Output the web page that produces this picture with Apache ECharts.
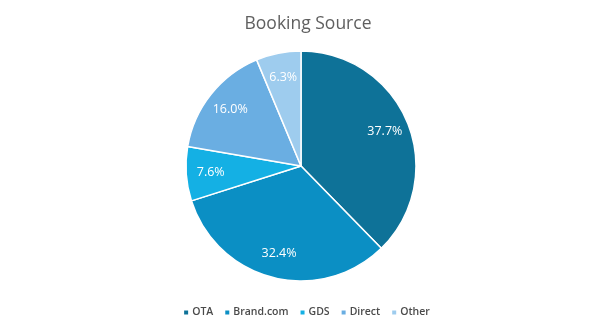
<!DOCTYPE html>
<html><head><meta charset="utf-8">
<script src="https://cdn.jsdelivr.net/npm/echarts@6/dist/echarts.min.js"></script>
<style>html,body{margin:0;padding:0;background:#fff}#c{width:612px;height:336px}</style>
</head><body><div id="c"></div>
<script>
const categories = ['OTA', 'Brand.com', 'GDS', 'Direct', 'Other'];
const shares = [37.7, 32.4, 7.6, 16.0, 6.3];
const colors = ['#0E7298', '#0B8FC4', '#14B0E4', '#6AAEE2', '#9ECCEE'];
const titleText = 'Booking Source';

const data = categories.map((n, i) => ({ name: n, value: shares[i], itemStyle: { color: colors[i] } }));
const font = '"Open Sans", "Noto Sans", sans-serif';
const chart = echarts.init(document.getElementById('c'), null, { renderer: 'canvas' });
chart.setOption({
  animation: false,
  title: { text: titleText, left: 303, textAlign: 'center', top: 10, textStyle: { fontFamily: font, fontSize: 17.5, fontWeight: 'normal', color: '#5f5f5f' } },
  legend: {
    data: categories, bottom: 13, left: 'center', itemWidth: 6, itemHeight: 6, itemGap: 10, icon: 'rect',
    textStyle: { fontFamily: font, fontSize: 10.5, fontWeight: 600, color: '#4a4a4a', padding: [0, 0, 0, -2] }
  },
  series: [
    {
      type: 'pie', center: [301, 166], radius: [0, 115], startAngle: 90, clockwise: true,
      data: data, label: { show: false }, labelLine: { show: false },
      itemStyle: { borderColor: '#fff', borderWidth: 1.5 }, emphasis: { disabled: true }
    },
    {
      type: 'pie', center: [301, 166], radius: [60, 115], startAngle: 90, clockwise: true, silent: true,
      data: data.map(d => ({ name: d.name, value: d.value, itemStyle: { color: 'rgba(0,0,0,0)' } })),
      legendHoverLink: false,
      label: { show: true, position: 'inside', formatter: p => p.value.toFixed(1) + '%', color: '#fff', fontFamily: font, fontSize: 12.5 },
      labelLine: { show: false }, itemStyle: { borderWidth: 0 }, emphasis: { disabled: true }
    }
  ]
});
</script></body></html>
